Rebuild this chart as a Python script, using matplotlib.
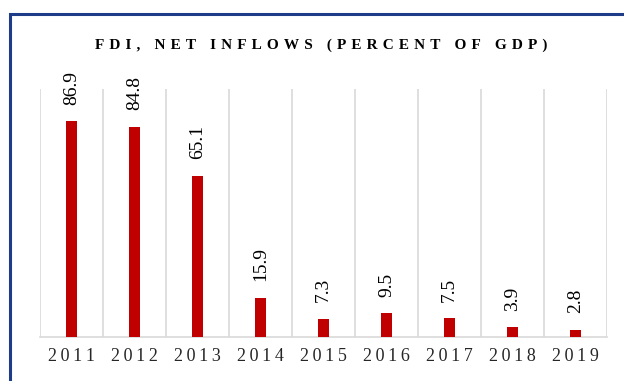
import matplotlib.pyplot as plt
import numpy as np
from matplotlib.patches import Rectangle

years = ['2011', '2012', '2013', '2014', '2015', '2016', '2017', '2018', '2019']
fdi = [86.9, 84.8, 65.1, 15.9, 7.3, 9.5, 7.5, 3.9, 2.8]
title = 'FDI, NET INFLOWS (PERCENT OF GDP)'

plt.rcParams['font.family'] = ['Liberation Serif', 'DejaVu Serif']

fig = plt.figure(figsize=(6.24, 3.81), dpi=100)
W, H = 624, 381

# blue frame (only top and left edge are visible in the crop)
fig.patches.append(Rectangle((10 / W, -0.1), 1.2, 1 - 14 / H + 0.1, transform=fig.transFigure,
                             fill=False, edgecolor='#1F3C88', linewidth=2.2))

ax = fig.add_axes([40 / W, (H - 337) / H, 567 / W, (337 - 89) / H])
x = np.arange(len(years))
bars = ax.bar(x, fdi, width=0.19, color='#C00000', zorder=3)

ax.set_xlim(-0.5, len(years) - 0.5)
ax.set_ylim(0, 100)
ax.set_yticks([])
ax.set_xticks(x)
ax.set_xticklabels(['\u2009'.join(y) for y in years], fontsize=13, color='#262626')
ax.tick_params(axis='x', length=0, pad=8)
ax.set_xticks(np.arange(-0.5, len(years)), minor=True)
ax.tick_params(axis='x', which='minor', length=0)
ax.grid(True, which='minor', axis='x', color='#D9D9D9', linewidth=1.2, zorder=0)

for s in ['top', 'left', 'right']:
    ax.spines[s].set_visible(False)
ax.spines['bottom'].set_color('#D9D9D9')
ax.spines['bottom'].set_linewidth(1.2)

# value labels above each bar, rotated
for xi, v in zip(x, fdi):
    ax.annotate(f'{v:.1f}', (xi, v), xytext=(0, 12), textcoords='offset points',
                rotation=90, ha='center', va='bottom', fontsize=14, color='black')

fig.text(321 / W, 1 - 45 / H, '\u2004'.join(title), ha='center', va='center',
         fontsize=11, fontweight='bold', color='black')

fig.savefig('out.png', dpi=100)
